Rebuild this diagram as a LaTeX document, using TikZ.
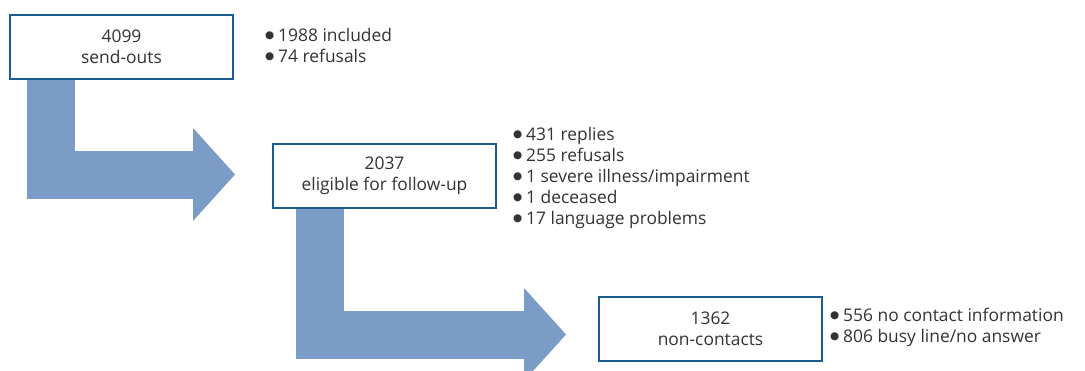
\documentclass[tikz,border=0pt]{standalone}
\usepackage{fontspec}
\setmainfont{Open Sans}
\newfontfamily\dotfont{DejaVu Sans}
\usetikzlibrary{arrows.meta}
\definecolor{boxline}{HTML}{1D5C92}
\definecolor{flowfill}{HTML}{7A9CC6}
\definecolor{txtgray}{HTML}{333333}
\tikzset{%
stage/.style={draw=boxline,line width=2pt,fill=white,minimum width=223pt,minimum height=64pt,align=center,text=txtgray},
notes/.style={anchor=west,align=left,inner sep=0pt,text=txtgray},
flow/.style={draw=flowfill,line width=48pt,line join=miter,-{Triangle[length=42pt,width=93pt,line width=0pt]}}
}
\pgfdeclarelayer{background}
\pgfsetlayers{background,main}
\newcommand{\itm}[1]{\makebox[13pt][l]{\raisebox{2.2pt}{\dotfont\fontsize{10.5}{10}\selectfont ●}}#1}

\begin{document}
\begin{tikzpicture}[x=1pt,y=-1pt,
                    every node/.append style={font=\fontsize{17.4}{21}\selectfont}]
\useasboundingbox (0,0) rectangle (1085,370);
%%
\node[stage] (sendOut)   at (121.5,47)  {4099\\send-outs};
\node[stage] (eligible)  at (384.5,175.5) {2037\\eligible for follow-up};
\node[stage] (nonCont)   at (710.5,328.5) {1362\\non-contacts};
%%
\node[notes] (sendNotes)  at (265,45)    {\itm{1988 included}\\\itm{74 refusals}};
\node[notes] (eligNotes)  at (513,177.5) {\itm{431 replies}\\\itm{255 refusals}\\\itm{1 severe illness/impairment}\\\itm{1 deceased}\\\itm{17 language problems}};
\node[notes] (nonNotes)   at (830,327)   {\itm{556 no contact information}\\\itm{806 busy line/no answer}};
%%
\coordinate (tipA) at ([xshift=-37pt,yshift=1pt]eligible.west);
\coordinate (tipB) at ([xshift=-32pt,yshift=-6pt]nonCont.west);
%%%%%%%%%%%%%%
\begin{pgfonlayer}{background}
\draw[flow] ([xshift=42pt]sendOut.south west) |- (tipA);
\draw[flow] ([xshift=48pt]eligible.south west) |- (tipB);
\end{pgfonlayer}
\end{tikzpicture}
\end{document}
